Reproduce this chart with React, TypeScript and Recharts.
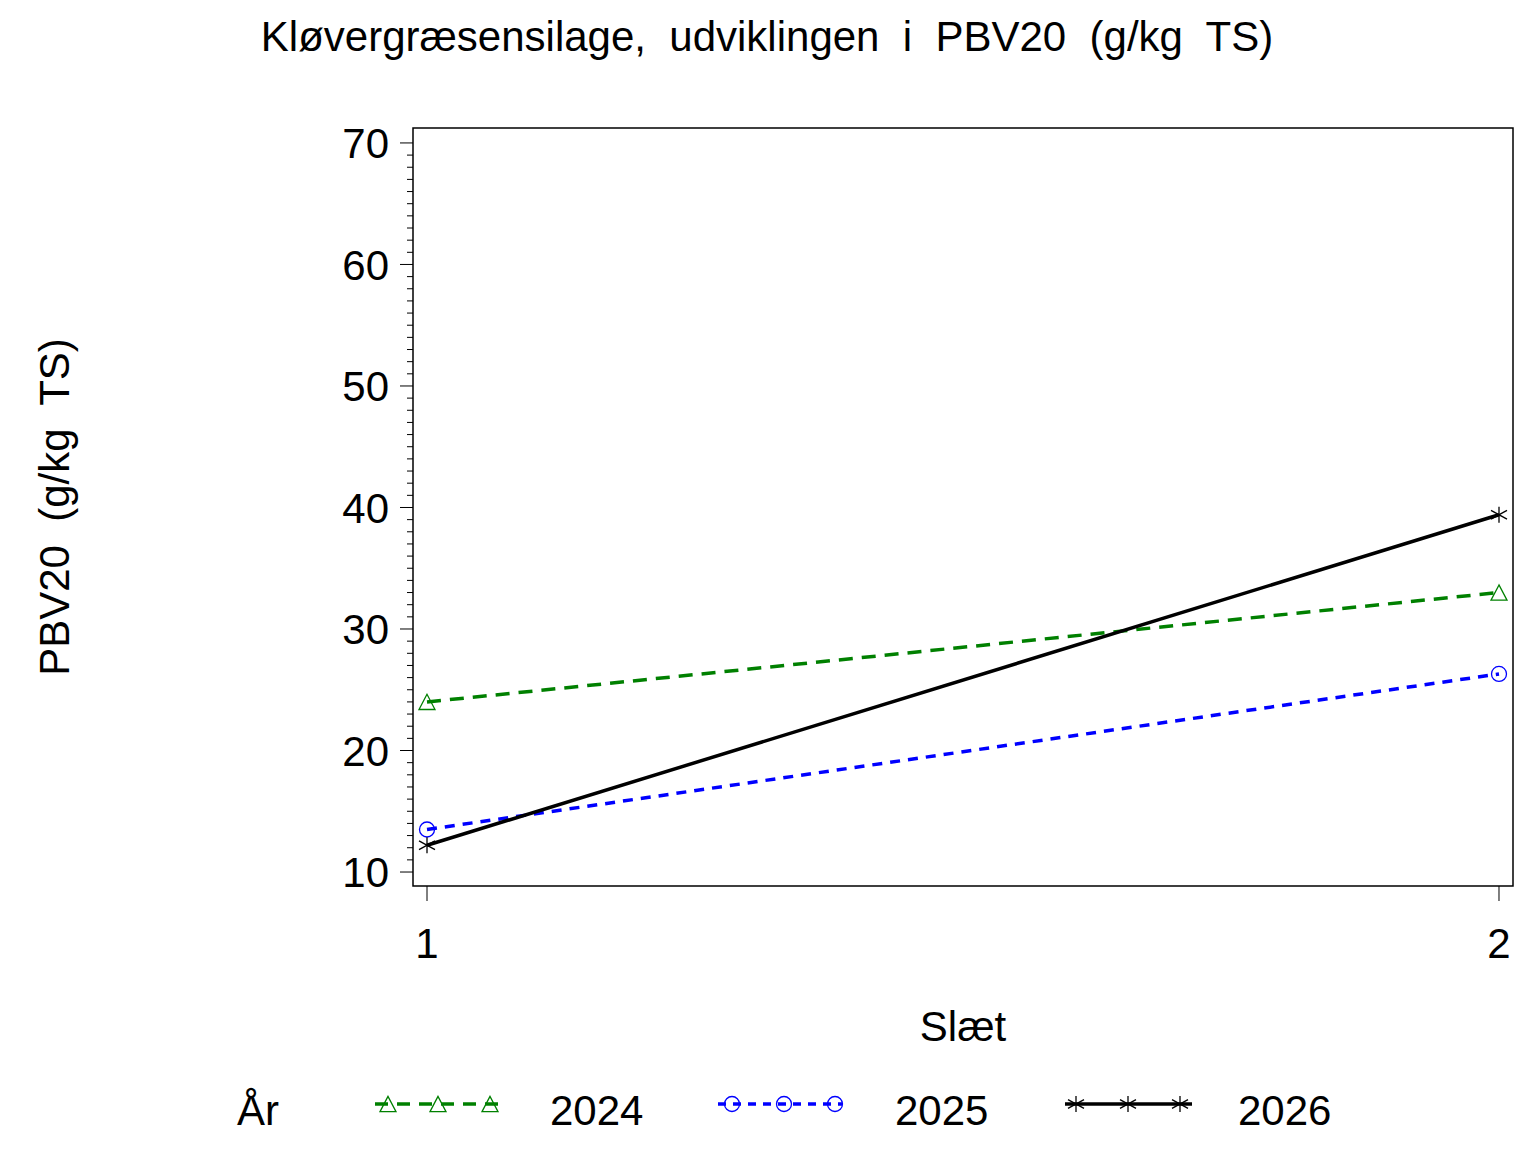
import { LineChart, Line, XAxis, YAxis, ReferenceArea } from 'recharts';

const slaet = [1, 2];
const pbv2024 = [24.0, 33.0];
const pbv2025 = [13.5, 26.3];
const pbv2026 = [12.2, 39.4];
const yTicks = Array.from({ length: 61 }, (_, i) => 10 + i);

const W = 1536;
const H = 1152;
const FONT = '"Liberation Sans", Arial, Helvetica, sans-serif';

const data = slaet.map((s, i) => ({
  slaet: s,
  y2024: pbv2024[i],
  y2025: pbv2025[i],
  y2026: pbv2026[i],
}));

const X_DOMAIN: [number, number] = [0.98694, 2.01306];
const Y_DOMAIN: [number, number] = [8.85, 71.23];

function Triangle({ cx, cy, size = 8 }: { cx: number; cy: number; size?: number }) {
  return (
    <polygon
      points={`${cx},${cy - size * 0.95} ${cx - size},${cy + size * 0.95} ${cx + size},${cy + size * 0.95}`}
      fill="none"
      stroke="#008000"
      strokeWidth={1.3}
    />
  );
}

function Circ({ cx, cy, r = 7.5 }: { cx: number; cy: number; r?: number }) {
  return <circle cx={cx} cy={cy} r={r} fill="none" stroke="#0000ff" strokeWidth={1.3} />;
}

function Star({ cx, cy, s = 8 }: { cx: number; cy: number; s?: number }) {
  return (
    <g stroke="#000" strokeWidth={1.3}>
      <line x1={cx} y1={cy - s} x2={cx} y2={cy + s} />
      <line x1={cx - s} y1={cy - s * 0.55} x2={cx + s} y2={cy + s * 0.55} />
      <line x1={cx - s} y1={cy + s * 0.55} x2={cx + s} y2={cy - s * 0.55} />
    </g>
  );
}

function YTick(props: any) {
  const { x, y, payload } = props;
  const major = payload.value % 10 === 0;
  return (
    <g>
      <line x1={x - (major ? 13 : 6)} x2={x} y1={y} y2={y} stroke="#000" strokeWidth={1} />
      {major && (
        <text x={x - 24} y={y} dy="0.36em" textAnchor="end" fontSize={42} fontFamily={FONT} fill="#000">
          {payload.value}
        </text>
      )}
    </g>
  );
}

function XTick(props: any) {
  const { x, y, payload } = props;
  return (
    <g>
      <line x1={x} x2={x} y1={y} y2={y + 15} stroke="#000" strokeWidth={1} />
      <text x={x} y={y + 72} textAnchor="middle" fontSize={42} fontFamily={FONT} fill="#000">
        {payload.value}
      </text>
    </g>
  );
}

const legendItems = [
  { label: '2024', lineX: [375, 505], marks: [388, 438, 490], textX: 550, color: '#008000', dash: '13 9', kind: 'tri' },
  { label: '2025', lineX: [718, 842], marks: [732, 784, 835], textX: 895, color: '#0000ff', dash: '8 7', kind: 'circ' },
  { label: '2026', lineX: [1065, 1192], marks: [1076, 1128, 1180], textX: 1238, color: '#000', dash: undefined, kind: 'star' },
];

function LegendContent() {
  const ly = 1104;
  return (
    <svg width={W} height={H} style={{ position: 'absolute', left: 0, top: 0, pointerEvents: 'none' }}>
      <text x={237} y={ly + 21} fontSize={42} fontFamily={FONT} fill="#000">År</text>
      {legendItems.map((it) => (
        <g key={it.label}>
          <line x1={it.lineX[0]} x2={it.lineX[1]} y1={ly} y2={ly} stroke={it.color} strokeWidth={3.5} strokeDasharray={it.dash} />
          {it.marks.map((m) =>
            it.kind === 'tri' ? (
              <Triangle key={m} cx={m} cy={ly} size={8} />
            ) : it.kind === 'circ' ? (
              <Circ key={m} cx={m} cy={ly} r={7.5} />
            ) : (
              <Star key={m} cx={m} cy={ly} s={8} />
            ),
          )}
          <text x={it.textX} y={ly + 21} fontSize={42} fontFamily={FONT} fill="#000">{it.label}</text>
        </g>
      ))}
    </svg>
  );
}

export default function App() {
  return (
    <div style={{ position: 'absolute', left: 0, top: 0, width: W, height: H, background: '#fff', fontFamily: FONT }}>
      <div style={{ position: 'absolute', left: 0, top: 13, width: W - 2, textAlign: 'center', fontSize: 42, color: '#000', whiteSpace: 'pre' }}>
        {'Kløvergræsensilage,  udviklingen  i  PBV20  (g/kg  TS)'}
      </div>
      <div
        style={{
          position: 'absolute',
          left: 55,
          top: 507,
          transform: 'translate(-50%, -50%) rotate(-90deg)',
          fontSize: 42,
          whiteSpace: 'pre',
          color: '#000',
        }}
      >
        {'PBV20  (g/kg  TS)'}
      </div>
      <div style={{ position: 'absolute', left: 963, top: 1027, transform: 'translate(-50%, -50%)', fontSize: 42, color: '#000' }}>
        Slæt
      </div>
      <div style={{ position: 'absolute', left: 0, top: 0 }}>
        <LineChart width={W} height={H} data={data} margin={{ top: 128, right: 23, left: 313, bottom: 206 }}>
          <XAxis
            dataKey="slaet"
            type="number"
            domain={X_DOMAIN}
            ticks={slaet}
            axisLine={false}
            tickLine={false}
            tickSize={0}
            tickMargin={0}
            height={60}
            tick={<XTick />}
            interval={0}
          />
          <YAxis
            type="number"
            domain={Y_DOMAIN}
            ticks={yTicks}
            axisLine={false}
            tickLine={false}
            tickSize={0}
            tickMargin={0}
            width={100}
            tick={<YTick />}
            interval={0}
          />
          <ReferenceArea
            x1={X_DOMAIN[0]}
            x2={X_DOMAIN[1]}
            y1={Y_DOMAIN[0]}
            y2={Y_DOMAIN[1]}
            fill="none"
            fillOpacity={0}
            stroke="#000"
            strokeWidth={1.5}
          />
          <Line
            dataKey="y2024"
            stroke="#008000"
            strokeWidth={3.5}
            strokeDasharray="14 9"
            isAnimationActive={false}
            dot={(p: any) => <Triangle key={`t${p.index}`} cx={p.cx} cy={p.cy} />}
            activeDot={false}
          />
          <Line
            dataKey="y2025"
            stroke="#0000ff"
            strokeWidth={3.5}
            strokeDasharray="10 8"
            isAnimationActive={false}
            dot={(p: any) => <Circ key={`c${p.index}`} cx={p.cx} cy={p.cy} />}
            activeDot={false}
          />
          <Line
            dataKey="y2026"
            stroke="#000"
            strokeWidth={3.5}
            isAnimationActive={false}
            dot={(p: any) => <Star key={`s${p.index}`} cx={p.cx} cy={p.cy} />}
            activeDot={false}
          />
        </LineChart>
      </div>
      <LegendContent />
    </div>
  );
}
